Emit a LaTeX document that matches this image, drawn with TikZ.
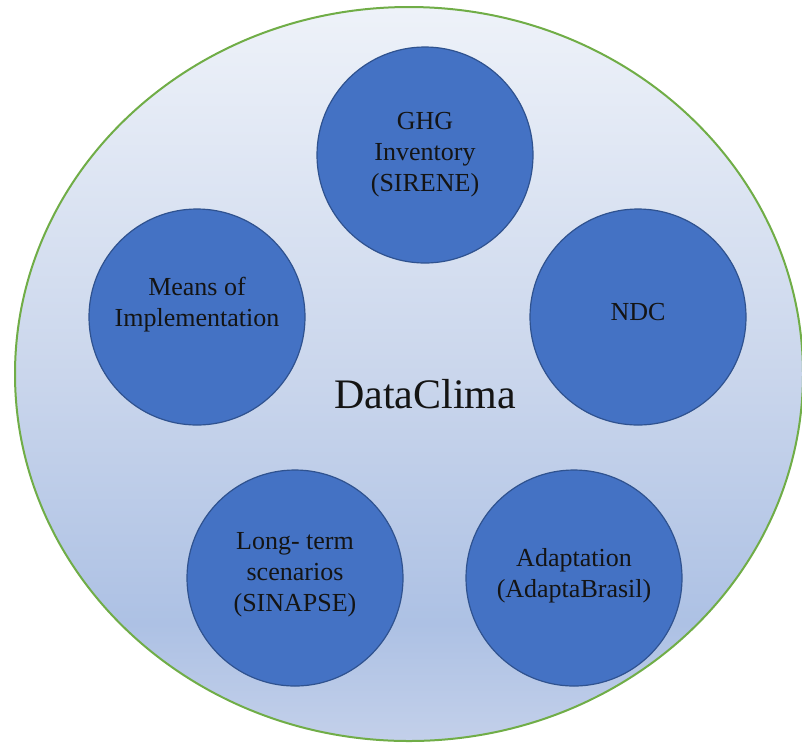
\documentclass[tikz,border=0pt]{standalone}
\usepackage{fontspec}
\setmainfont{Liberation Serif}
\usetikzlibrary{shapes.geometric}
\definecolor{dcgreen}{HTML}{70AD47}
\definecolor{dcblue}{HTML}{4472C4}
\definecolor{dcedge}{HTML}{2F528F}
\definecolor{dctop}{HTML}{EEF2F9}
\definecolor{dcmid}{HTML}{CAD6EC}
\definecolor{dclow}{HTML}{ADC1E4}
\definecolor{dcbot}{HTML}{C3D0EA}
\definecolor{dctext}{HTML}{141414}
\pgfdeclareverticalshading{dcshade}{100bp}{color(0bp)=(dcbot); color(25bp)=(dcbot);
  color(33bp)=(dclow); color(50bp)=(dcmid); color(75bp)=(dctop); color(100bp)=(dctop)}
\tikzset{
  pillar/.style={circle, draw=dcedge, line width=1.2pt, fill=dcblue,
    minimum size=216pt, inner sep=0pt,
    align=center, font=\fontsize{26}{31}\selectfont, text=dctext},
}
\begin{document}
\begin{tikzpicture}[x=1pt,y=-1pt]
\useasboundingbox (0,0) rectangle (802,748);
\node[ellipse, draw=dcgreen, line width=2pt, shading=dcshade,
  minimum width=788pt, minimum height=734pt] (outer) at (409,374) {};
\node[font=\fontsize{42}{50}\selectfont, text=dctext] (title) at (425,394) {DataClima};
\node[pillar] (ghg) at (425,155) {GHG\\Inventory\\(SIRENE)};
\node[pillar] (moi) at (197,317) {Means of\\Implementation\\};
\node[pillar] (ndc) at (638,317) {NDC\\[-21pt]};
\node[pillar] (lts) at (295,578) {Long- term\\scenarios\\(SINAPSE)\\[-19pt]};
\node[pillar] (ada) at (574,578) {Adaptation\\(AdaptaBrasil)\\[-21pt]};
\end{tikzpicture}
\end{document}
